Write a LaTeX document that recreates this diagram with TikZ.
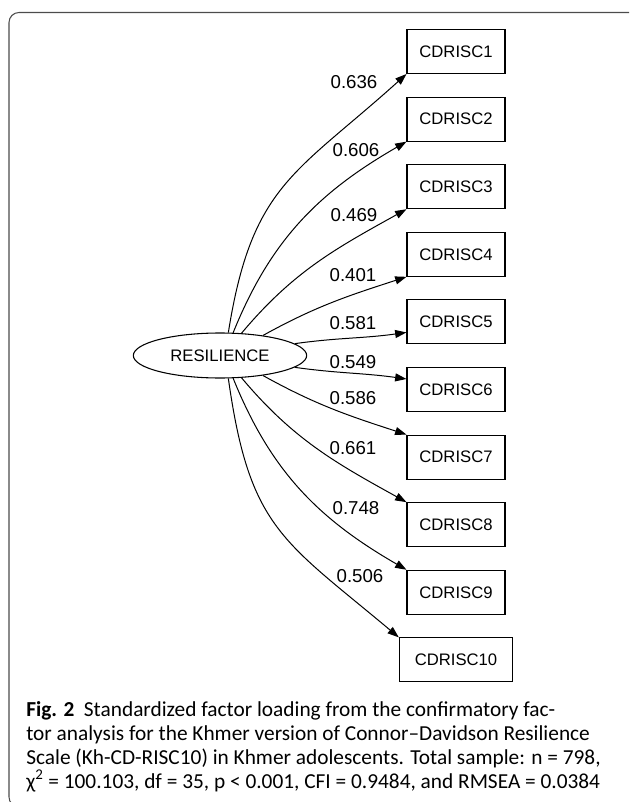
\documentclass[tikz,border=0pt]{standalone}
\usepackage{fontspec}
\setmainfont{Carlito}
\newfontfamily\diagfont{Liberation Sans}
\usetikzlibrary{arrows.meta,positioning,shapes.geometric}

\begin{document}
\begin{tikzpicture}[x=0.75pt, y=-0.75pt,
  ind/.style={draw=black, line width=0.8pt, minimum width=73.5pt, minimum height=33pt, inner sep=2pt, font=\diagfont\fontsize{12.5}{14}\selectfont},
  latent/.style={ellipse, draw=black, line width=0.8pt, minimum width=130pt, minimum height=33.75pt, inner sep=0pt, font=\diagfont\fontsize{12.5}{14}\selectfont},
  arrow/.style={-{Triangle[length=8.5pt, width=6pt]}, line width=0.75pt, draw=black},
  lbl/.style={inner sep=1pt, font=\diagfont\fontsize{14}{16}\selectfont},
  frame/.style={draw=black!70, line width=0.8pt, rounded corners=7.5pt},
  capt/.style={align=left, inner sep=0pt, font=\fontsize{16}{18}\selectfont}
]
\useasboundingbox (0,0) rectangle (629,802);
\clip (0,0) rectangle (629,802);
\draw[frame] (9,12.5) rectangle (645,807);

% latent factor
\node[latent] (res) at (220,355.5) {RESILIENCE};

% indicators
\node[ind] (c1) at (456,51.5) {CDRISC1};
\node[ind, below=16.9pt of c1] (c2) {CDRISC2};
\node[ind, below=16.9pt of c2] (c3) {CDRISC3};
\node[ind, below=16.9pt of c3] (c4) {CDRISC4};
\node[ind, below=16.9pt of c4] (c5) {CDRISC5};
\node[ind, below=16.9pt of c5] (c6) {CDRISC6};
\node[ind, below=16.9pt of c6] (c7) {CDRISC7};
\node[ind, below=16.9pt of c7] (c8) {CDRISC8};
\node[ind, below=16.9pt of c8] (c9) {CDRISC9};
\node[ind, below=16.9pt of c9, minimum width=85pt] (c10) {CDRISC10};

% loadings
\draw[arrow] (res.70) to[out=81, in=222, looseness=1.22] (c1.south west);
\draw[arrow] (res.60) to[out=68, in=210] (c2.south west);
\draw[arrow] (res.46) to[out=50, in=209] (c3.south west);
\draw[arrow] (res.25) to[out=29, in=198] (c4.south west);
\draw[arrow] (res.9) to[out=8, in=188] (c5.192);
\draw[arrow] (res.-9) to[out=-8, in=172] (c6.168);
\draw[arrow] (res.-25) to[out=-29, in=162] (c7.north west);
\draw[arrow] (res.-46) to[out=-50, in=151] (c8.north west);
\draw[arrow] (res.-60) to[out=-68, in=150] (c9.north west);
\draw[arrow] (res.-70) to[out=-82, in=140, looseness=1.25] (c10.north west);

\node[lbl] (l1) at (354,82) {0.636};
\node[lbl] (l2) at (356,150) {0.606};
\node[lbl] (l3) at (354,215) {0.469};
\node[lbl] (l4) at (353,275) {0.401};
\node[lbl] (l5) at (353,323) {0.581};
\node[lbl] (l6) at (353,362) {0.549};
\node[lbl] (l7) at (353,398) {0.586};
\node[lbl] (l8) at (353,448) {0.661};
\node[lbl] (l9) at (356,508) {0.748};
\node[lbl] (l10) at (360,576) {0.506};

% caption
\node[capt, anchor=north west] (cap) at (26,701) {\textbf{Fig. 2}\hspace{0.45em}Standardized factor loading from the confirmatory fac-\\
tor analysis for the Khmer version of Connor–Davidson Resilience\\
Scale (Kh-CD-RISC10) in Khmer adolescents. Total sample: n = 798,\\
χ\textsuperscript{2} = 100.103, df = 35, p < 0.001, CFI = 0.9484, and RMSEA = 0.0384};
\end{tikzpicture}
\end{document}
